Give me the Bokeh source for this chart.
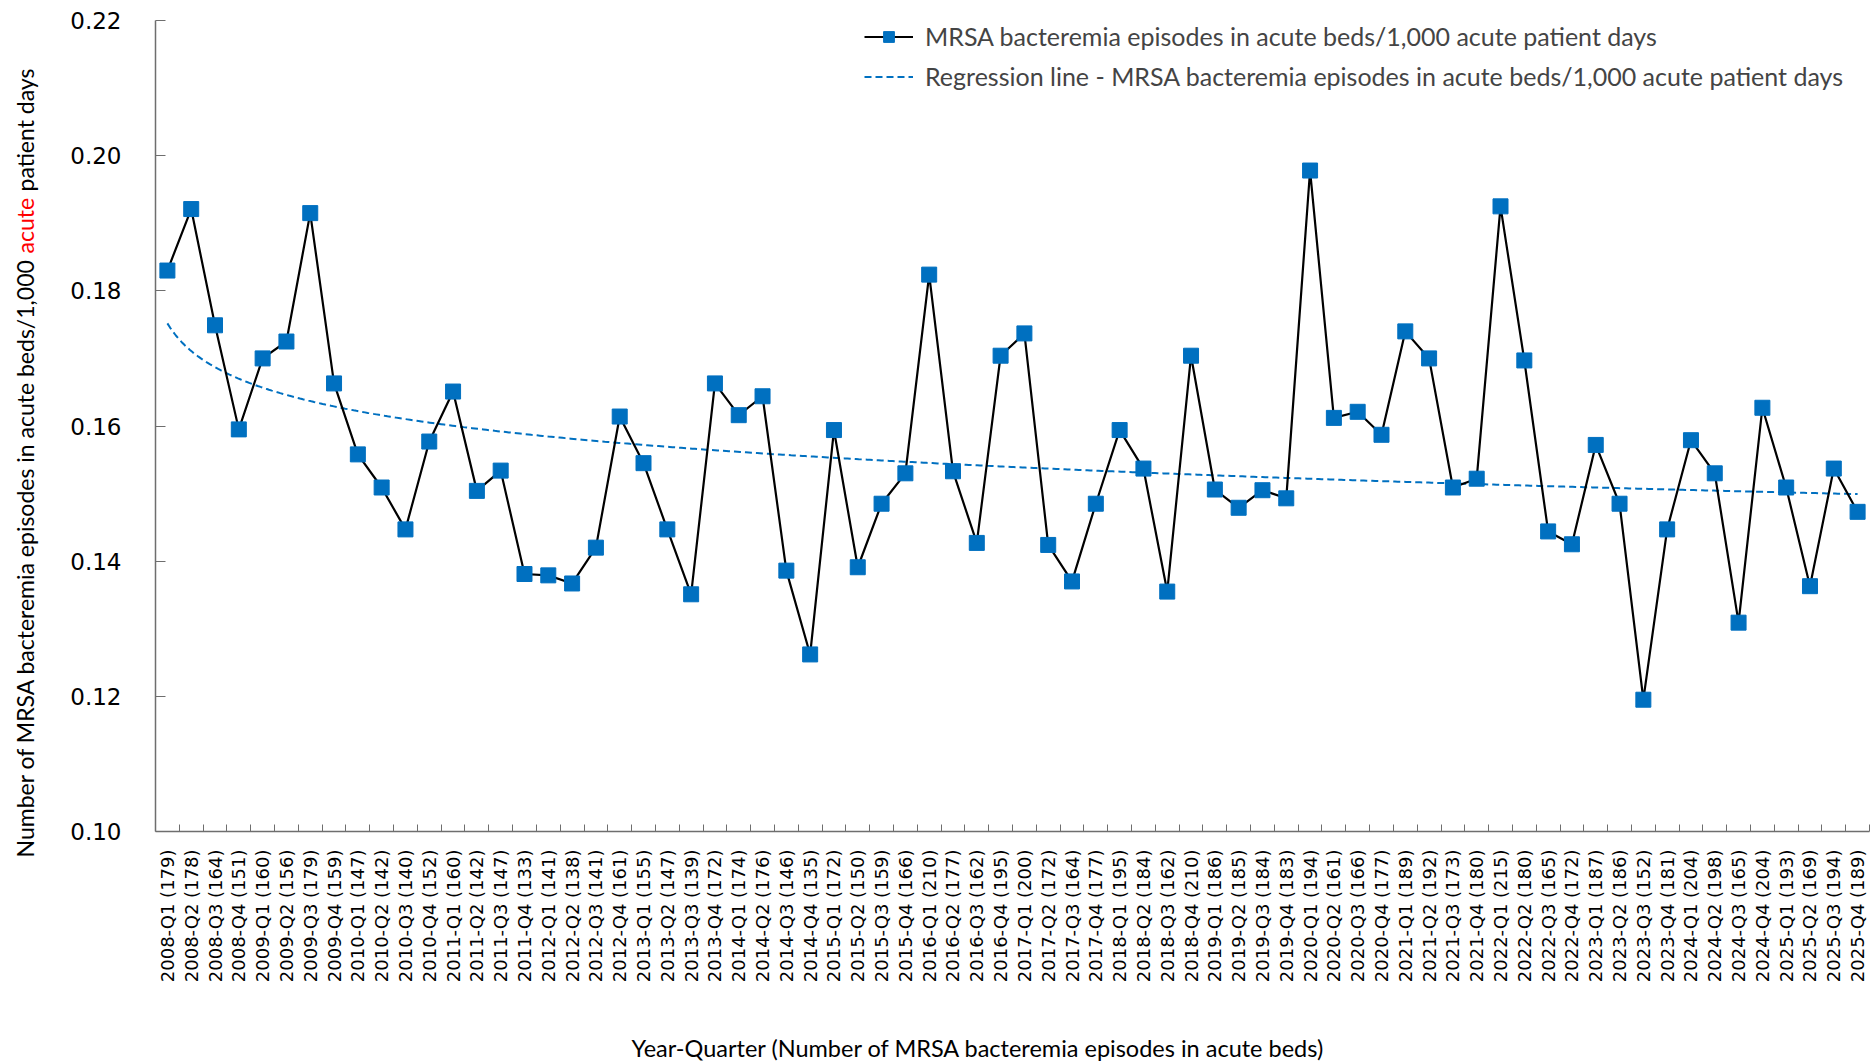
import numpy as np
from math import pi
from bokeh.plotting import figure
from bokeh.layouts import row, column
from bokeh.models import (Range1d, FixedTicker, NumeralTickFormatter, Label,
                          Legend, LegendItem, ColumnDataSource)
from bokeh.embed import file_html
from bokeh.resources import INLINE

# ---------------- data ----------------
quarters = [
    "2008-Q1", "2008-Q2", "2008-Q3", "2008-Q4",
    "2009-Q1", "2009-Q2", "2009-Q3", "2009-Q4",
    "2010-Q1", "2010-Q2", "2010-Q3", "2010-Q4",
    "2011-Q1", "2011-Q2", "2011-Q3", "2011-Q4",
    "2012-Q1", "2012-Q2", "2012-Q3", "2012-Q4",
    "2013-Q1", "2013-Q2", "2013-Q3", "2013-Q4",
    "2014-Q1", "2014-Q2", "2014-Q3", "2014-Q4",
    "2015-Q1", "2015-Q2", "2015-Q3", "2015-Q4",
    "2016-Q1", "2016-Q2", "2016-Q3", "2016-Q4",
    "2017-Q1", "2017-Q2", "2017-Q3", "2017-Q4",
    "2018-Q1", "2018-Q2", "2018-Q3", "2018-Q4",
    "2019-Q1", "2019-Q2", "2019-Q3", "2019-Q4",
    "2020-Q1", "2020-Q2", "2020-Q3", "2020-Q4",
    "2021-Q1", "2021-Q2", "2021-Q3", "2021-Q4",
    "2022-Q1", "2022-Q2", "2022-Q3", "2022-Q4",
    "2023-Q1", "2023-Q2", "2023-Q3", "2023-Q4",
    "2024-Q1", "2024-Q2", "2024-Q3", "2024-Q4",
    "2025-Q1", "2025-Q2", "2025-Q3", "2025-Q4",
]
episodes = [
    179, 178, 164, 151, 160, 156, 179, 159, 147, 142, 140, 152,
    160, 142, 147, 133, 141, 138, 141, 161, 155, 147, 139, 172,
    174, 176, 146, 135, 172, 150, 159, 166, 210, 177, 162, 195,
    200, 172, 164, 177, 195, 184, 162, 210, 186, 185, 184, 183,
    194, 161, 166, 177, 189, 192, 173, 180, 215, 180, 165, 172,
    187, 186, 152, 181, 204, 198, 165, 204, 193, 169, 194, 189,
]
rates = [
    0.1830, 0.1921, 0.1749, 0.1595, 0.1700, 0.1725, 0.1915, 0.1663,
    0.1558, 0.1509, 0.1447, 0.1577, 0.1651, 0.1504, 0.1534, 0.1381,
    0.1379, 0.1367, 0.1420, 0.1614, 0.1545, 0.1447, 0.1351, 0.1663,
    0.1616, 0.1644, 0.1386, 0.1262, 0.1594, 0.1391, 0.1485, 0.1530,
    0.1824, 0.1533, 0.1427, 0.1704, 0.1737, 0.1424, 0.1370, 0.1485,
    0.1594, 0.1537, 0.1355, 0.1704, 0.1506, 0.1479, 0.1505, 0.1493,
    0.1978, 0.1612, 0.1621, 0.1587, 0.1740, 0.1700, 0.1509, 0.1522,
    0.1925, 0.1697, 0.1444, 0.1425, 0.1572, 0.1485, 0.1195, 0.1447,
    0.1579, 0.1530, 0.1309, 0.1627, 0.1509, 0.1363, 0.1537, 0.1473,
]
y_ticks = [0.10, 0.12, 0.14, 0.16, 0.18, 0.20, 0.22]

series_label = "MRSA bacteremia episodes in acute beds/1,000 acute patient days"
trend_label = "Regression line - MRSA bacteremia episodes in acute beds/1,000 acute patient days"
x_title = "Year-Quarter (Number of MRSA bacteremia episodes in acute beds)"
# y title in three runs (the middle word is red); runs are separated by single spaces
y_title_parts = ["Number of MRSA bacteremia episodes in acute beds/1,000", "acute", "patient days"]

# ---------------- derived ----------------
idx = np.arange(1, len(quarters) + 1)
tick_labels = {int(i): f"{q} ({n})" for i, q, n in zip(idx, quarters, episodes)}

# logarithmic trendline (least squares on ln x), as in the spreadsheet
b, a = np.polyfit(np.log(idx), np.array(rates), 1)
xt = np.linspace(1, len(quarters), 600)
yt = a + b * np.log(xt)

BLUE = "#0070C0"
AXIS = "#6e6e6e"
TFONT = "Lato"

YW = 40          # width of the strip holding the y title
MAIN_H = 1030    # height of the main plot
XH = 33          # height of the strip holding the x title
TOTAL_W = 1870


def strip(w, h):
    f = figure(width=w, height=h, output_backend="svg", toolbar_location=None,
               x_range=Range1d(0, w), y_range=Range1d(0, h),
               x_axis_location=None, y_axis_location=None,
               min_border_left=0, min_border_right=0, min_border_top=0, min_border_bottom=0)
    f.frame_align = False
    f.outline_line_color = None
    f.xgrid.visible = False
    f.ygrid.visible = False
    f.background_fill_color = "white"
    f.border_fill_color = "white"
    return f


p = figure(width=TOTAL_W - YW, height=MAIN_H, output_backend="svg", toolbar_location=None,
           x_range=Range1d(0.5, len(quarters) + 0.5), y_range=Range1d(0.10, 0.22),
           min_border_left=155 - YW, min_border_right=1, min_border_top=20,
           min_border_bottom=MAIN_H - 20 - 811)
p.frame_align = False
p.outline_line_color = None
p.xgrid.visible = False
p.ygrid.visible = False
p.background_fill_color = "white"
p.border_fill_color = "white"

src = ColumnDataSource(dict(x=idx, y=rates))
trend = p.line(xt, yt, line_color=BLUE, line_width=2, line_dash="7 4")
ln = p.line("x", "y", source=src, line_color="black", line_width=2.2)
sc = p.scatter("x", "y", source=src, marker="square", size=15,
               fill_color=BLUE, line_color=BLUE)

# axes
xa = p.xaxis[0]
xa.ticker = FixedTicker(ticks=[int(i) for i in idx],
                        minor_ticks=[float(i) + 0.5 for i in idx])
xa.major_label_overrides = tick_labels
xa.major_label_orientation = pi / 2
xa.major_tick_in = 0
xa.major_tick_out = 0
xa.minor_tick_in = 7
xa.minor_tick_out = 0
xa.minor_tick_line_color = AXIS
xa.axis_line_color = AXIS
xa.axis_line_width = 1.5
xa.major_label_standoff = 18
xa.major_label_text_font = "DejaVu Sans"
xa.major_label_text_font_size = "18px"
xa.major_label_text_color = "black"

ya = p.yaxis[0]
ya.ticker = FixedTicker(ticks=y_ticks)
ya.formatter = NumeralTickFormatter(format="0.00")
ya.major_tick_in = 10
ya.major_tick_out = 0
ya.minor_tick_line_color = None
ya.major_tick_line_color = AXIS
ya.axis_line_color = AXIS
ya.axis_line_width = 1.5
ya.major_label_standoff = 34
ya.major_label_text_font = "DejaVu Sans"
ya.major_label_text_font_size = "23px"
ya.major_label_text_color = "black"

# legend
legend = Legend(items=[LegendItem(label=series_label, renderers=[ln, sc]),
                       LegendItem(label=trend_label, renderers=[trend])],
                location=(709, 740), padding=0, margin=0, spacing=10,
                glyph_width=49, glyph_height=27, label_height=27, label_standoff=12,
                label_text_font=TFONT, label_text_font_size="25px",
                background_fill_alpha=0, border_line_color=None)
p.add_layout(legend)

# y title strip (one red word); positions in strip pixels (y up)
yf = strip(YW, MAIN_H)
ycx = 24
red_start = MAIN_H - 253   # bottom end of the red word
red_len = 57               # rendered length of the red word
gap = 5                    # width of a space
YTS = "23px"
yf.add_layout(Label(x=ycx, y=red_start - gap, text=y_title_parts[0], angle=pi / 2,
                    text_font=TFONT, text_font_size=YTS, text_align="right",
                    text_baseline="middle", text_color="black"))
yf.add_layout(Label(x=ycx, y=red_start, text=y_title_parts[1], angle=pi / 2,
                    text_font=TFONT, text_font_size=YTS, text_align="left",
                    text_baseline="middle", text_color="#FF0000"))
yf.add_layout(Label(x=ycx, y=red_start + red_len + gap, text=y_title_parts[2], angle=pi / 2,
                    text_font=TFONT, text_font_size=YTS, text_align="left",
                    text_baseline="middle", text_color="black"))

# x title strip
xf = strip(TOTAL_W, XH)
xf.add_layout(Label(x=978, y=XH - (1047 - MAIN_H), text=x_title, text_font=TFONT,
                    text_font_size="23.5px", text_align="center", text_baseline="middle",
                    text_color="black"))

layout = column(row(yf, p), xf)
open("out.html", "w").write(file_html(layout, INLINE))
